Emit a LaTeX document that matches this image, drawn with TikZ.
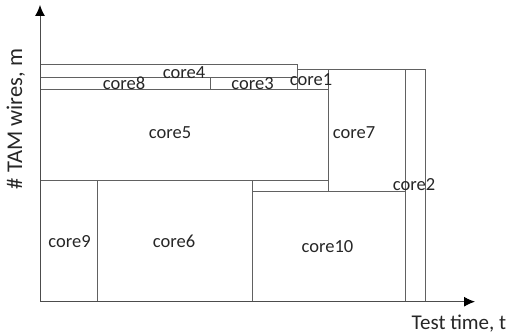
\documentclass[tikz,border=0pt]{standalone}
\usepackage{fontspec}
\setmainfont{Carlito}
\usetikzlibrary{arrows.meta}
\tikzset{
  box/.style={draw=black!62, line width=0.9pt},
  lbl/.style={inner sep=0pt, anchor=base, font=\fontsize{18.5}{20}\selectfont, text=black!85},
  axis/.style={draw=black!70, line width=1pt, -{Latex[length=11pt,width=10pt,black]}},
  axlbl/.style={inner sep=0pt, anchor=base, text=black!85}
}
\begin{document}
\begin{tikzpicture}[x=1pt,y=-1pt]
\useasboundingbox (0,0) rectangle (510,334);
% boxes
\draw[box] (40,64.3) rectangle (297.7,77.7);
\draw[box] (40,77.7) rectangle (210,89.3);
\draw[box] (210,77.7) rectangle (297.7,89.3);
\draw[box] (297.7,69.3) rectangle (328,89.3);
\draw[box] (40,89.3) rectangle (328,180);
\draw[box] (328,69.3) rectangle (405.7,191.5);
\draw[box] (405.7,69.3) rectangle (425.3,301.7);
\draw[box] (40,180) rectangle (97.3,301.7);
\draw[box] (97.3,180) rectangle (252,301.7);
\draw[box] (252,191.5) rectangle (405.7,301.7);
% axes
\coordinate (o) at (40,301.7);
\coordinate (ytip) at (40,5);
\coordinate (xtip) at (475,301.7);
\draw[axis] (o) -- (ytip);
\draw[axis] (o) -- (xtip);
% labels
\node[lbl] (c4) at (184,78) {core4};
\node[lbl] (c8) at (124,89.5) {core8};
\node[lbl] (c3) at (252.5,89.5) {core3};
\node[lbl] (c1) at (311,85) {core1};
\node[lbl] (c5) at (170,138) {core5};
\node[lbl] (c7) at (354,138) {core7};
\node[lbl] (c2) at (414,190.5) {core2};
\node[lbl] (c9) at (69.5,247.3) {core9};
\node[lbl] (c6) at (174,247.3) {core6};
\node[lbl] (c10) at (327.5,252.7) {core10};
\node[axlbl, anchor=base west, font=\fontsize{21}{23}\selectfont] (xl) at (411.5,329) {Test time, t};
\node[axlbl, rotate=90, font=\fontsize{22.5}{24}\selectfont] (yl) at (22,119) {\# TAM wires, m};
\end{tikzpicture}
\end{document}
